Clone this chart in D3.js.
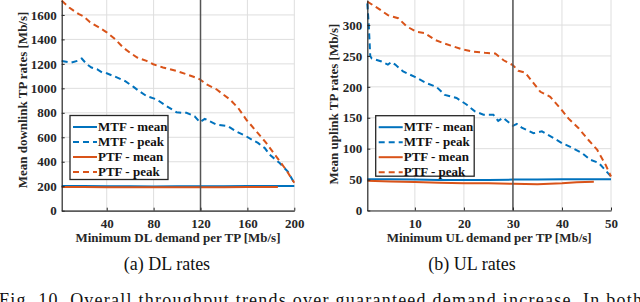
<!DOCTYPE html>
<html><head><meta charset="utf-8">
<script src="https://cdn.jsdelivr.net/npm/d3@7"></script>
<style>html,body{margin:0;padding:0;background:#fff;overflow:hidden}svg{display:block}</style>
</head><body>
<svg id="c" width="640" height="302"></svg>
<script>
// ---------- DATA ----------
// (a) DL rates
const dlMtfPeakX = [1.6,10,15,18.7,23,27,31.7,36,40,47,55.5,62.6,68,74,82.5,91,99.5,104,108,115,119.4,123.6,128,133.6,143.5,150,159,164,169,175,179,187.5,194.5,200];
const dlMtfPeakY = [1224,1211,1225,1244,1197,1170,1156,1130,1123,1096,1060,1014,975,937,910,855,805,800,800,772,723,751,730,704,690,650,608,580,554,510,458,389,320,226];
const dlPtfPeakX = [1.6,8,15.9,20,25.8,33,40,47,54,60,66,74,79.7,88,99.5,108,114,119.4,125,133.6,140,145,152,159,167.6,176,184.5,193,200];
const dlPtfPeakY = [1717,1660,1608,1590,1540,1500,1458,1403,1334,1290,1252,1224,1197,1170,1142,1115,1095,1074,1033,992,945,910,841,745,649,554,444,334,228];
const dlMtfMeanX = [1.6,20,40,60,80,100,120,140,160,180,200];
const dlMtfMeanY = [202,201,200,199,198,199,200,200,201,201,202];
const dlPtfMeanX = [1.6,20,40,60,80,100,120,140,160,186];
const dlPtfMeanY = [193,193,192,192,191,191,192,192,193,194];
// (b) UL rates
const ulMtfPeakX = [0.3,0.6,0.9,1.2,3.2,4.5,5.2,6,7.6,10,12.4,14.4,16.1,18.5,20.6,22.3,24,26,27,28,30,30.8,31.8,34.2,35.9,38.3,40,41.7,44.1,45.8,47.5,50];
const ulMtfPeakY = [335,300,250,246,241,236,240,236,225,216,206,200,187,182,171,160,155,155,145,150,137,140,134,125,128,117,109,103,93,82,77,55];
const ulPtfPeakX = [0.3,2.5,4.5,6.6,8.3,10.3,12,14.1,16.1,19.5,21.9,24.3,26.4,28.1,30,31.1,32.5,34.2,35.6,37.6,39.7,41.3,43.4,45.4,47.2,48.9,50];
const ulPtfPeakY = [338,327,316,311,298,289,287,276,270,261,257,255,254,243,235,226,223,206,192,184,165,149,133,114,98,74,55];
const ulMtfMeanX = [0.3,5,10,15,20,25,30,35,40,45,50];
const ulMtfMeanY = [50.7,50.5,50,49.5,49.3,49.5,50,50.3,50.5,50.5,50.7];
const ulPtfMeanX = [0.3,5,10,15,20,25,30,35,40,43,46.5];
const ulPtfMeanY = [48,47,46,45,44,44,43.2,42.6,44,45.5,46.4];

const dlXTicks = [40,80,120,160,200];
const dlYTicks = [0,200,400,600,800,1000,1200,1400,1600];
const ulXTicks = [10,20,30,40,50];
const ulYTicks = [0,50,100,150,200,250,300];
const dlMarker = 120, ulMarker = 30;
const legendLabels = ["MTF - mean","MTF - peak","PTF - mean","PTF - peak"];
const captions = ["(a) DL rates","(b) UL rates"];
const figCaption = "Fig. 10.  Overall throughput trends over guaranteed demand increase. In both";

// ---------- DRAW ----------
const svg = d3.select("#c");
const BLUE = "#0072BD", ORANGE = "#D95319";
const FONT = "'Liberation Serif','Times New Roman',serif";

function zip(xs, ys){ return xs.map((x,i)=>[x, ys[i]]); }

function panel(cfg){
  const x = d3.scaleLinear().domain(cfg.xDomain).range([cfg.left, cfg.right]);
  const y = d3.scaleLinear().domain(cfg.yDomain).range([cfg.bottom, cfg.top]);
  const g = svg.append("g");
  // grid
  g.append("g").selectAll("line").data(cfg.xTicks).join("line")
    .attr("x1", d=>x(d)).attr("x2", d=>x(d)).attr("y1", cfg.top).attr("y2", cfg.bottom)
    .attr("stroke", "#dedede").attr("stroke-width", 1);
  g.append("g").selectAll("line").data(cfg.yTicks).join("line")
    .attr("x1", cfg.left).attr("x2", cfg.right).attr("y1", d=>y(d)).attr("y2", d=>y(d))
    .attr("stroke", "#dedede").attr("stroke-width", 1);
  const line = d3.line().x(d=>x(d[0])).y(d=>y(d[1]));
  const series = [
    {d: zip(cfg.mtfMean[0], cfg.mtfMean[1]), c: BLUE, dash: null},
    {d: zip(cfg.mtfPeak[0], cfg.mtfPeak[1]), c: BLUE, dash: "6,4"},
    {d: zip(cfg.ptfMean[0], cfg.ptfMean[1]), c: ORANGE, dash: null},
    {d: zip(cfg.ptfPeak[0], cfg.ptfPeak[1]), c: ORANGE, dash: "6,4"}
  ];
  series.forEach(s=>{
    g.append("path").attr("d", line(s.d)).attr("fill","none")
      .attr("stroke", s.c).attr("stroke-width", 2).attr("stroke-dasharray", s.dash);
  });
  // marker vertical line
  g.append("line").attr("x1", x(cfg.marker)).attr("x2", x(cfg.marker))
    .attr("y1", cfg.top).attr("y2", cfg.bottom).attr("stroke", "#555").attr("stroke-width", 1.5);
  // axes
  const xa = g.append("g").attr("transform", `translate(0,${cfg.bottom})`)
    .call(d3.axisBottom(x).tickValues(cfg.xTicks).tickFormat(d3.format("d"))
      .tickSize(-3).tickPadding(6).tickSizeOuter(0));
  const ya = g.append("g").attr("transform", `translate(${cfg.left},0)`)
    .call(d3.axisLeft(y).tickValues(cfg.yTicks).tickFormat(d3.format("d"))
      .tickSize(-3).tickPadding(5).tickSizeOuter(0));
  [xa, ya].forEach(a=>{
    a.select(".domain").attr("stroke", "#262626").attr("stroke-width", 1.2);
    a.selectAll(".tick line").attr("stroke", "#262626");
    a.selectAll("text").attr("font-family", FONT).attr("font-weight", "bold")
      .attr("font-size", 13).attr("fill", "#262626");
  });
  xa.selectAll("text").attr("dy", "0.85em");
  // axis titles
  g.append("text").attr("x", (cfg.left + cfg.right)/2).attr("y", 242)
    .attr("text-anchor", "middle").attr("font-family", FONT).attr("font-weight", "bold")
    .attr("font-size", 13).attr("fill", "#262626").text(cfg.xTitle);
  g.append("text").attr("transform", `translate(${cfg.yTitleX},${cfg.yTitleY}) rotate(-90)`)
    .attr("text-anchor", "middle").attr("font-family", FONT).attr("font-weight", "bold")
    .attr("font-size", 13).attr("fill", "#262626").text(cfg.yTitle);
  // legend
  const L = cfg.legend;
  const lg = g.append("g");
  lg.append("rect").attr("x", L.x).attr("y", L.y).attr("width", L.w).attr("height", L.h)
    .attr("fill", "#fff").attr("stroke", "#262626").attr("stroke-width", 1.3);
  series.forEach((s,i)=>{
    const yy = L.y + 11.5 + i*15;
    lg.append("line").attr("x1", L.x + 3).attr("x2", L.x + 27).attr("y1", yy).attr("y2", yy)
      .attr("stroke", s.c).attr("stroke-width", 2).attr("stroke-dasharray", s.dash);
    lg.append("text").attr("x", L.x + 28).attr("y", yy).attr("dy", "0.33em")
      .attr("font-family", FONT).attr("font-weight", "bold").attr("font-size", 13)
      .attr("fill", "#111").text(legendLabels[i]);
  });
  // caption
  g.append("text").attr("x", cfg.capX).attr("y", 270).attr("text-anchor", "middle")
    .attr("font-family", FONT).attr("font-size", 18).attr("fill", "#111").text(cfg.caption);
}

panel({
  xDomain: [1.6, 200], yDomain: [0, 1722], left: 61.7, right: 294.3, top: 0, bottom: 210.7,
  xTicks: dlXTicks, yTicks: dlYTicks, marker: dlMarker,
  mtfMean: [dlMtfMeanX, dlMtfMeanY], mtfPeak: [dlMtfPeakX, dlMtfPeakY],
  ptfMean: [dlPtfMeanX, dlPtfMeanY], ptfPeak: [dlPtfPeakX, dlPtfPeakY],
  xTitle: "Minimum DL demand per TP [Mb/s]", yTitle: "Mean downlink TP rates [Mb/s]",
  yTitleX: 27, yTitleY: 100,
  legend: {x: 70, y: 115.5, w: 98, h: 64},
  caption: captions[0], capX: 167
});
panel({
  xDomain: [0.3, 50], yDomain: [0, 340.5], left: 367.3, right: 611, top: 0, bottom: 210.5,
  xTicks: ulXTicks, yTicks: ulYTicks, marker: ulMarker,
  mtfMean: [ulMtfMeanX, ulMtfMeanY], mtfPeak: [ulMtfPeakX, ulMtfPeakY],
  ptfMean: [ulPtfMeanX, ulPtfMeanY], ptfPeak: [ulPtfPeakX, ulPtfPeakY],
  xTitle: "Minimum UL demand per TP [Mb/s]", yTitle: "Mean uplink TP rates [Mb/s]",
  yTitleX: 338, yTitleY: 104,
  legend: {x: 375.7, y: 115.7, w: 98.5, h: 60.5},
  caption: captions[1], capX: 472
});
svg.append("text").attr("x", -1).attr("y", 306).attr("font-family", FONT).attr("font-size", 18)
  .attr("fill", "#111").attr("textLength", 643).attr("lengthAdjust", "spacing").text(figCaption);
</script>
</body></html>
